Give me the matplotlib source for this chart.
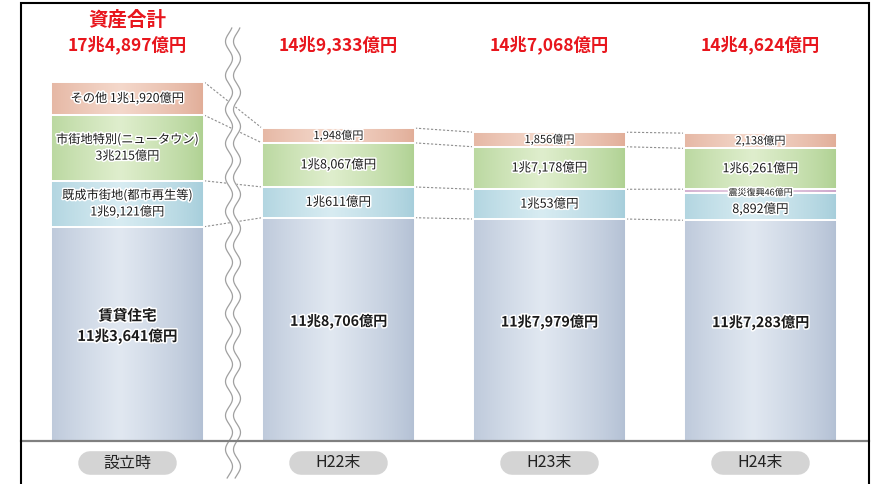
import numpy as np
import matplotlib.pyplot as plt
import matplotlib.patheffects as pe
from matplotlib.colors import LinearSegmentedColormap
from matplotlib.lines import Line2D

plt.rcParams['font.family'] = ['Noto Sans CJK JP', 'DejaVu Sans']

# 資産の内訳 (億円)
periods = ['設立時', 'H22末', 'H23末', 'H24末']
totals = [174897, 149333, 147068, 144624]
rental = [113641, 118706, 117979, 117283]     # 賃貸住宅
urban = [19121, 10611, 10053, 8892]           # 既成市街地(都市再生等)
quake = [0, 0, 0, 46]                         # 震災復興
newtown = [30215, 18067, 17178, 16261]        # 市街地特別(ニュータウン)
other = [11920, 1948, 1856, 2138]             # その他
first_names = ['賃貸住宅', '既成市街地(都市再生等)', '震災復興', '市街地特別(ニュータウン)', 'その他']

W, H = 874, 484
BASE = 441          # baseline, pixels from top
STEP = 211          # pixels between bar centres
BW = 153 / STEP


def seg_height(v):
    # mostly linear, with a small lift so thin segments can still hold a label
    return 1.78e-3 * v + 12.0 * v / (v + 120.0)


def oku(v):
    cho, rest = divmod(v, 10000)
    if cho:
        return f'{cho}兆{rest:,}億円'
    return f'{rest:,}億円'


layers = [rental, urban, quake, newtown, other]
shades = [('#b3c0d4', '#e1e8f1'),
          ('#a6cedb', '#d8ecf2'),
          ('#cda6cb', '#e8d3e6'),
          ('#afd192', '#dfeecd'),
          ('#e1ad98', '#f4d8cb')]

heights = np.array([[seg_height(v) for v in layer] for layer in layers])
tops = np.cumsum(heights, axis=0)
bottoms = tops - heights

fig = plt.figure(figsize=(W / 100, H / 100), dpi=100)
ax = fig.add_axes([0, (H - BASE) / H, 1, BASE / H])
ax.axis('off')

x = np.arange(len(periods))
t = np.linspace(0, 1, 64)
profile = np.clip(1 - np.abs(t - 0.45) / 0.55, 0, 1) ** 0.8
grad = profile[np.newaxis, :]

for k, layer in enumerate(layers):
    cmap = LinearSegmentedColormap.from_list(f'c{k}', shades[k])
    bars = ax.bar(x, heights[k], BW, bottom=bottoms[k], facecolor='none',
                  edgecolor='white', lw=1.4, zorder=3)
    for i, patch in enumerate(bars):
        if layer[i] == 0:
            continue
        im = ax.imshow(grad, cmap=cmap, vmin=0, vmax=1, aspect='auto',
                       interpolation='bilinear', origin='lower', zorder=2,
                       extent=[i - BW / 2, i + BW / 2, bottoms[k][i], tops[k][i]])
        im.set_clip_path(patch)

# dashed links between the category boundaries of neighbouring bars
for k in [0, 2, 3, 4]:
    for i in range(len(periods) - 1):
        ax.plot([i + BW / 2, i + 1 - BW / 2], [tops[k][i], tops[k][i + 1]],
                ls=(0, (2, 1.6)), color='#8f8f8f', lw=0.8, zorder=1)

halo = [pe.withStroke(linewidth=2.2, foreground='white')]


def seg_label(i, k, text, size=9, weight='normal', dy=0.0):
    y = (bottoms[k][i] + tops[k][i]) / 2 + dy
    ax.text(i, y, text, ha='center', va='center', fontsize=size,
            fontweight=weight, color='#1a1a1a', linespacing=1.35,
            path_effects=halo, zorder=6)


# 設立時 carries the category names
seg_label(0, 0, f'{first_names[0]}\n{oku(rental[0])}', size=10.5, weight='bold', dy=8)
seg_label(0, 1, f'{first_names[1]}\n{oku(urban[0])}', size=8.8)
seg_label(0, 3, f'{first_names[3]}\n{oku(newtown[0])}', size=8.8)
seg_label(0, 4, f'{first_names[4]} {oku(other[0])}', size=8.8)

for i in range(1, len(periods)):
    seg_label(i, 0, oku(rental[i]), size=10.2, weight='bold', dy=8)
    seg_label(i, 1, oku(urban[i]), size=9, dy=-3 if quake[i] else 0)
    seg_label(i, 3, oku(newtown[i]), size=9)
    seg_label(i, 4, oku(other[i]), size=8)
    if quake[i]:
        seg_label(i, 2, f'{first_names[2]}{quake[i]}億円', size=6.5, dy=-2)

# totals above the bars
ax.text(0, BASE - 20, '資産合計', ha='center', va='center', fontsize=14,
        fontweight='bold', color='#e8161d')
for i in range(len(periods)):
    ax.text(i, BASE - 45, oku(totals[i]), ha='center', va='center',
            fontsize=12.5, fontweight='bold', color='#e8161d')

# period tags under the baseline
for i, p in enumerate(periods):
    ax.plot([i - 0.18, i + 0.18], [-22, -22], lw=17, solid_capstyle='round',
            color='#d4d4d4', clip_on=False, zorder=2)
    ax.text(i, -22, p, ha='center', va='center', fontsize=11.5,
            color='#222222', zorder=3)

# wavy break between 設立時 and H22末
yy = np.linspace(-37, BASE - 28, 400)
wave = 3.5 * np.sin(2 * np.pi * yy / 34) / STEP
xl = 0.5 - 4 / STEP + wave
xr = 0.5 + 4 / STEP + wave
ax.fill_betweenx(yy, xl, xr, color='white', zorder=4, clip_on=False)
ax.plot(xl, yy, color='#a0a0a0', lw=0.9, zorder=5, clip_on=False)
ax.plot(xr, yy, color='#a0a0a0', lw=0.9, zorder=5, clip_on=False)

ax.set_xlim(-127.5 / STEP, (W - 127.5) / STEP)
ax.set_ylim(0, BASE)

# baseline and outer frame
fx0, fx1, fy1 = 20.5 / W, 868.5 / W, 1 - 2.5 / H
fig.add_artist(Line2D([fx0, fx1], [(H - BASE) / H] * 2,
                      color='#808080', lw=1.6, zorder=7))
fig.add_artist(Line2D([fx0, fx0, fx1, fx1], [-0.02, fy1, fy1, -0.02],
                      color='black', lw=1.5, zorder=8,
                      solid_joinstyle='miter'))

fig.savefig('out.png', dpi=100)
